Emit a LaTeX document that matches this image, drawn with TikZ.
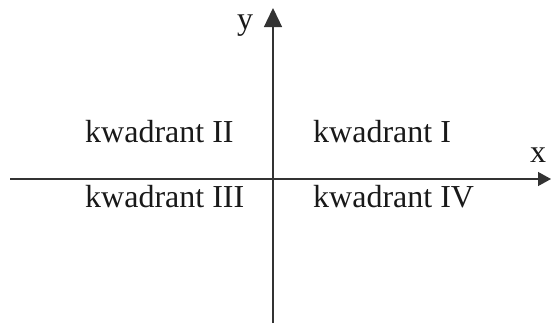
\documentclass[tikz,border=0pt]{standalone}
\usepackage{fontspec}
\setmainfont{Liberation Serif}
\usetikzlibrary{arrows.meta}
\begin{document}
\begin{tikzpicture}[x=1pt,y=-1pt,
  axis/.style={line width=1.3pt,draw=black!80},
  lbl/.style={inner sep=0pt,font=\fontsize{32}{36}\selectfont,text=black!90}]
\useasboundingbox (0,0) rectangle (551,325);
\coordinate (xs) at (10,179);
\coordinate (xe) at (551,179);
\coordinate (ys) at (273,323);
\coordinate (ye) at (273,8);
\draw[axis,-{Triangle[length=13pt,width=14pt]}] (xs) -- (xe);
\draw[axis,-{Triangle[length=19pt,width=18pt]}] (ys) -- (ye);
\node[lbl,anchor=base] (ylab) at (245,29) {y};
\node[lbl,anchor=base] (xlab) at (538,162) {x};
\node[lbl,anchor=base west] (q2) at (85,142) {kwadrant II};
\node[lbl,anchor=base west] (q1) at (313,142) {kwadrant I};
\node[lbl,anchor=base west] (q3) at (85,207) {kwadrant III};
\node[lbl,anchor=base west] (q4) at (313,207) {kwadrant IV};
\end{tikzpicture}
\end{document}
